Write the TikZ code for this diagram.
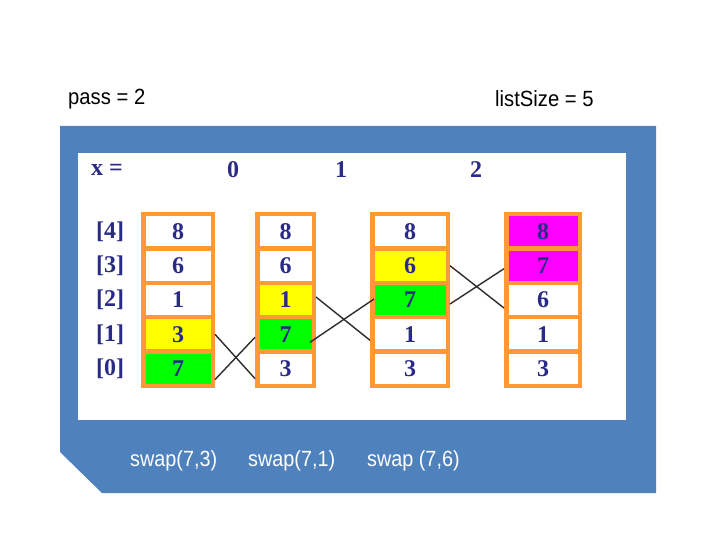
\documentclass[tikz,border=0pt]{standalone}
\usepackage{fontspec}
\setmainfont{Liberation Serif}
\newfontfamily\arial{Liberation Sans}
\usetikzlibrary{calc}
\definecolor{panelblue}{RGB}{79,129,189}
\definecolor{cellorange}{RGB}{255,153,51}
\definecolor{navytext}{RGB}{42,42,135}
\definecolor{crossgray}{RGB}{45,45,45}
\definecolor{hlyellow}{RGB}{255,255,0}
\definecolor{hlgreen}{RGB}{0,255,0}
\definecolor{hlmagenta}{RGB}{255,0,255}
\tikzset{
  cellbox/.style={draw=cellorange, line width=4.5pt, minimum height=34.3pt, inner sep=0pt,
    font=\fontsize{24}{24}\selectfont\bfseries, text=navytext},
  lbl/.style={font=\fontsize{24}{24}\selectfont\bfseries, text=navytext, inner sep=0pt},
  sanslbl/.style={font=\arial\fontsize{22}{22}\selectfont, inner sep=0pt, anchor=west},
  crossline/.style={draw=crossgray, line width=1.4pt},
}
\begin{document}
\begin{tikzpicture}[x=1pt,y=-1pt]
\useasboundingbox (0,0) rectangle (720,540);
\fill[white] (0,0) rectangle (720,540);
% panel
\fill[panelblue] (60,126) -- (656,126) -- (656,493) -- (102,493) -- (60,452) -- cycle;
\fill[white] (78,153) rectangle (626,420);
% top labels
\node[sanslbl, text=black] (pass) at (68,99) {\scalebox{0.92}[1]{pass = 2}};
\node[sanslbl, text=black] (lsize) at (495,99) {\scalebox{0.92}[1]{listSize = 5}};
% x labels
\node[lbl] (xeq) at (107,170) {x =};
\node[lbl] (x0) at (233,170) {0};
\node[lbl] (x1) at (341,170) {1};
\node[lbl] (x2) at (476,170) {2};
% row labels
\foreach \r/\yy in {4/231.4,3/265.7,2/300,1/334.3,0/368.6}
  \node[lbl] (rl\r) at (110,\yy) {[\r]};
% column 1
\foreach \r/\yy/\c/\v in {4/231.4/white/8,3/265.7/white/6,2/300/white/1,1/334.3/hlyellow/3,0/368.6/hlgreen/7}
  \node[cellbox, minimum width=69.5pt, fill=\c] (c1r\r) at (178,\yy) {\v};
% column 2
\foreach \r/\yy/\c/\v in {4/231.4/white/8,3/265.7/white/6,2/300/hlyellow/1,1/334.3/hlgreen/7,0/368.6/white/3}
  \node[cellbox, minimum width=56.5pt, fill=\c] (c2r\r) at (285.5,\yy) {\v};
% column 3
\foreach \r/\yy/\c/\v in {4/231.4/white/8,3/265.7/hlyellow/6,2/300/hlgreen/7,1/334.3/white/1,0/368.6/white/3}
  \node[cellbox, minimum width=75.5pt, fill=\c] (c3r\r) at (410,\yy) {\v};
% column 4
\foreach \r/\yy/\c/\v in {4/231.4/hlmagenta/8,3/265.7/hlmagenta/7,2/300/white/6,1/334.3/white/1,0/368.6/white/3}
  \node[cellbox, minimum width=73.5pt, fill=\c] (c4r\r) at (543,\yy) {\v};
% swap crosses
\draw[crossline] (c1r1.east) -- ([yshift=-10pt]c2r0.west);
\draw[crossline] ([yshift=-11pt]c1r0.east) -- ([yshift=-3pt]c2r1.west);
\draw[crossline] ([yshift=3pt]c2r2.east) -- ([yshift=-6pt]c3r1.west);
\draw[crossline] ([xshift=-6pt,yshift=-8pt]c2r1.east) -- ([xshift=4pt,yshift=1pt]c3r2.west);
\draw[crossline] (c3r3.east) -- ([yshift=-8pt]c4r2.west);
\draw[crossline] ([yshift=-4pt]c3r2.east) -- ([yshift=-3pt]c4r3.west);
% swap texts
\node[sanslbl, text=white] (s1) at (130,461) {\scalebox{0.9}[1]{swap(7,3)}};
\node[sanslbl, text=white] (s2) at (248,461) {\scalebox{0.9}[1]{swap(7,1)}};
\node[sanslbl, text=white] (s3) at (367,461) {\scalebox{0.9}[1]{swap (7,6)}};
\end{tikzpicture}
\end{document}
